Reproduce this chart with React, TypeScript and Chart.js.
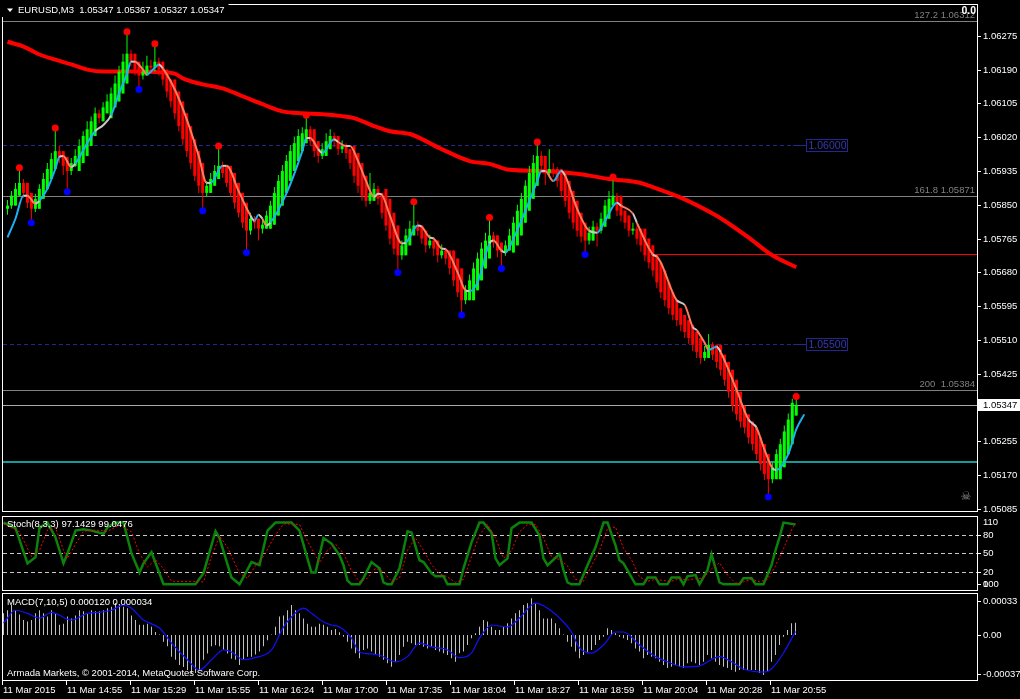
import React, { useEffect, useRef } from 'react';
import { Chart, registerables } from 'chart.js';
Chart.register(...registerables);

// ---------------- DATA ----------------
const opens = [
  1.05840,1.05848,1.05848,1.05873,1.05905,1.05905,1.05880,1.05840,1.05840,1.05865,
  1.05890,1.05915,1.05940,1.05985,1.05985,1.05970,1.05935,1.05948,1.05935,1.05955,
  1.05973,1.05998,1.06023,1.06080,1.06060,1.06080,1.06068,1.06095,1.06110,1.06130,
  1.06155,1.06230,1.06230,1.06210,1.06175,1.06175,1.06200,1.06195,1.06210,1.06210,
  1.06190,1.06165,1.06165,1.06135,1.06110,1.06080,1.06048,1.06015,1.05985,1.05955,
  1.05880,1.05880,1.05898,1.05915,1.05948,1.05948,1.05948,1.05930,1.05905,1.05880,
  1.05855,1.05785,1.05815,1.05815,1.05790,1.05790,1.05790,1.05800,1.05823,1.05848,
  1.05880,1.05910,1.05935,1.05960,1.05985,1.06005,1.06040,1.06040,1.06010,1.05973,
  1.05973,1.05990,1.06023,1.06023,1.05990,1.05998,1.05990,1.05998,1.05980,1.05955,
  1.05923,1.05860,1.05860,1.05890,1.05880,1.05890,1.05865,1.05830,1.05798,1.05723,
  1.05723,1.05748,1.05773,1.05798,1.05798,1.05785,1.05748,1.05760,1.05760,1.05723,
  1.05735,1.05735,1.05735,1.05715,1.05690,1.05610,1.05610,1.05610,1.05635,1.05660,
  1.05690,1.05715,1.05773,1.05773,1.05755,1.05730,1.05735,1.05730,1.05748,1.05773,
  1.05805,1.05835,1.05865,1.05898,1.05973,1.05973,1.05930,1.05940,1.05940,1.05940,
  1.05935,1.05910,1.05885,1.05860,1.05830,1.05805,1.05760,1.05760,1.05795,1.05785,
  1.05795,1.05815,1.05848,1.05873,1.05873,1.05835,1.05823,1.05785,1.05790,1.05790,
  1.05790,1.05765,1.05748,1.05723,1.05705,1.05685,1.05655,1.05630,1.05610,1.05590,
  1.05573,1.05560,1.05548,1.05530,1.05515,1.05465,1.05465,1.05498,1.05498,1.05498,
  1.05473,1.05455,1.05435,1.05410,1.05380,1.05345,1.05323,1.05305,1.05290,1.05265,
  1.05248,1.05223,1.05160,1.05160,1.05160,1.05190,1.05223,1.05248,1.05320,
];
const closes = [
  1.05848,1.05873,1.05890,1.05905,1.05880,1.05855,1.05840,1.05865,1.05890,1.05915,
  1.05940,1.05965,1.05985,1.05970,1.05948,1.05935,1.05955,1.05973,1.05998,1.06023,
  1.06040,1.06060,1.06080,1.06068,1.06095,1.06110,1.06130,1.06155,1.06185,1.06210,
  1.06230,1.06210,1.06190,1.06175,1.06185,1.06200,1.06195,1.06210,1.06190,1.06165,
  1.06135,1.06110,1.06080,1.06048,1.06015,1.05985,1.05955,1.05923,1.05898,1.05880,
  1.05898,1.05915,1.05935,1.05948,1.05930,1.05905,1.05880,1.05855,1.05830,1.05805,
  1.05785,1.05815,1.05805,1.05790,1.05800,1.05823,1.05848,1.05880,1.05910,1.05935,
  1.05960,1.05985,1.06005,1.06023,1.06030,1.06040,1.06010,1.05985,1.05973,1.05990,
  1.06010,1.06023,1.06010,1.05990,1.05998,1.05980,1.05955,1.05923,1.05898,1.05873,
  1.05860,1.05880,1.05890,1.05865,1.05830,1.05798,1.05765,1.05740,1.05723,1.05748,
  1.05773,1.05790,1.05798,1.05785,1.05765,1.05748,1.05760,1.05740,1.05723,1.05735,
  1.05715,1.05690,1.05660,1.05630,1.05610,1.05635,1.05660,1.05690,1.05715,1.05740,
  1.05760,1.05773,1.05755,1.05735,1.05730,1.05748,1.05773,1.05805,1.05835,1.05865,
  1.05898,1.05930,1.05955,1.05973,1.05948,1.05930,1.05940,1.05935,1.05910,1.05885,
  1.05860,1.05830,1.05805,1.05785,1.05770,1.05760,1.05780,1.05795,1.05785,1.05815,
  1.05848,1.05865,1.05873,1.05835,1.05823,1.05805,1.05785,1.05790,1.05765,1.05748,
  1.05723,1.05705,1.05685,1.05655,1.05630,1.05610,1.05590,1.05573,1.05560,1.05548,
  1.05530,1.05515,1.05498,1.05480,1.05465,1.05480,1.05498,1.05473,1.05455,1.05435,
  1.05410,1.05380,1.05345,1.05323,1.05305,1.05290,1.05265,1.05248,1.05223,1.05198,
  1.05173,1.05160,1.05190,1.05223,1.05248,1.05280,1.05310,1.05352,1.05347,
];
const highs = [
  1.05862,1.05885,1.05905,1.05943,1.05915,1.05888,1.05862,1.05878,1.05902,1.05930,
  1.05955,1.05980,1.06043,1.05998,1.05980,1.05955,1.05968,1.05990,1.06015,1.06035,
  1.06060,1.06072,1.06095,1.06090,1.06108,1.06128,1.06145,1.06175,1.06200,1.06230,
  1.06285,1.06240,1.06222,1.06198,1.06210,1.06225,1.06215,1.06255,1.06220,1.06200,
  1.06172,1.06145,1.06118,1.06090,1.06055,1.06022,1.05995,1.05962,1.05930,1.05905,
  1.05910,1.05930,1.05950,1.05998,1.05958,1.05938,1.05912,1.05888,1.05862,1.05840,
  1.05815,1.05830,1.05822,1.05812,1.05812,1.05835,1.05860,1.05895,1.05925,1.05950,
  1.05975,1.06000,1.06022,1.06040,1.06045,1.06075,1.06048,1.06020,1.05995,1.06005,
  1.06030,1.06040,1.06032,1.06018,1.06012,1.06005,1.05988,1.05962,1.05930,1.05905,
  1.05885,1.05930,1.05905,1.05898,1.05872,1.05838,1.05805,1.05772,1.05748,1.05760,
  1.05790,1.05810,1.05858,1.05808,1.05795,1.05775,1.05775,1.05768,1.05748,1.05750,
  1.05742,1.05722,1.05698,1.05668,1.05638,1.05648,1.05675,1.05705,1.05730,1.05755,
  1.05780,1.05818,1.05782,1.05765,1.05745,1.05760,1.05790,1.05820,1.05850,1.05880,
  1.05912,1.05948,1.05975,1.06008,1.05985,1.05960,1.05990,1.05955,1.05945,1.05918,
  1.05892,1.05868,1.05840,1.05812,1.05795,1.05780,1.05795,1.05810,1.05805,1.05830,
  1.05862,1.05885,1.05920,1.05880,1.05842,1.05830,1.05812,1.05805,1.05798,1.05772,
  1.05755,1.05730,1.05712,1.05692,1.05662,1.05640,1.05618,1.05600,1.05582,1.05568,
  1.05555,1.05538,1.05522,1.05505,1.05488,1.05495,1.05525,1.05505,1.05480,1.05462,
  1.05442,1.05418,1.05388,1.05352,1.05330,1.05312,1.05298,1.05272,1.05255,1.05230,
  1.05205,1.05180,1.05202,1.05235,1.05262,1.05295,1.05325,1.05362,1.05367,
];
const lows = [
  1.05825,1.05840,1.05865,1.05882,1.05868,1.05842,1.05805,1.05832,1.05858,1.05882,
  1.05905,1.05932,1.05958,1.05955,1.05925,1.05883,1.05925,1.05945,1.05965,1.05990,
  1.06015,1.06030,1.06052,1.06055,1.06060,1.06088,1.06100,1.06122,1.06148,1.06178,
  1.06202,1.06198,1.06175,1.06140,1.06165,1.06178,1.06180,1.06185,1.06175,1.06150,
  1.06120,1.06095,1.06065,1.06035,1.06000,1.05970,1.05940,1.05910,1.05880,1.05835,
  1.05870,1.05890,1.05905,1.05928,1.05918,1.05895,1.05870,1.05840,1.05818,1.05792,
  1.05730,1.05775,1.05790,1.05760,1.05778,1.05792,1.05815,1.05840,1.05870,1.05900,
  1.05928,1.05952,1.05975,1.05995,1.06010,1.06020,1.05998,1.05970,1.05955,1.05965,
  1.05982,1.06000,1.05995,1.05975,1.05980,1.05965,1.05940,1.05905,1.05880,1.05860,
  1.05845,1.05852,1.05870,1.05850,1.05815,1.05785,1.05750,1.05725,1.05680,1.05712,
  1.05740,1.05765,1.05782,1.05772,1.05752,1.05730,1.05740,1.05722,1.05705,1.05715,
  1.05700,1.05675,1.05645,1.05618,1.05573,1.05600,1.05625,1.05650,1.05682,1.05705,
  1.05732,1.05750,1.05742,1.05718,1.05690,1.05722,1.05740,1.05765,1.05795,1.05825,
  1.05855,1.05888,1.05920,1.05945,1.05935,1.05900,1.05920,1.05920,1.05895,1.05870,
  1.05845,1.05815,1.05790,1.05770,1.05755,1.05725,1.05750,1.05770,1.05745,1.05778,
  1.05808,1.05840,1.05858,1.05822,1.05808,1.05790,1.05770,1.05775,1.05750,1.05732,
  1.05708,1.05690,1.05670,1.05640,1.05615,1.05595,1.05575,1.05560,1.05545,1.05532,
  1.05515,1.05500,1.05482,1.05465,1.05450,1.05458,1.05472,1.05460,1.05440,1.05420,
  1.05395,1.05365,1.05330,1.05308,1.05290,1.05275,1.05250,1.05232,1.05208,1.05182,
  1.05158,1.05115,1.05150,1.05182,1.05215,1.05240,1.05272,1.05302,1.05327,
];

// slow moving average (bar, price)
const slowMA = [
  [0,1.06260],[4,1.06248],[8,1.06228],[12,1.06215],[16,1.06203],[20,1.06190],[24,1.06185],[27,1.06185],
  [33,1.06185],[39,1.06183],[42,1.06180],[44,1.06168],[49,1.06153],[54,1.06143],[59,1.06123],[64,1.06103],
  [69,1.06085],[74,1.06080],[79,1.06078],[84,1.06073],[87,1.06068],[92,1.06048],[96,1.06035],[101,1.06028],
  [109,1.05990],[116,1.05960],[121,1.05953],[126,1.05938],[134,1.05935],[143,1.05928],[151,1.05915],
  [159,1.05905],[161,1.05898],[169,1.05868],[177,1.05828],[180,1.05810],[186,1.05768],[192,1.05723],[198,1.05693],
];

// trend line (bar, price, state u=up d=down n=neutral)
const trendLine = [
  [0,1.05768,'u'],[2,1.05815,'u'],[4,1.05873,'n'],[5,1.05873,'d'],[7,1.05853,'n'],[8,1.05860,'u'],[10,1.05890,'u'],
  [12,1.05940,'u'],[13,1.05970,'n'],[14,1.05973,'d'],[16,1.05945,'n'],[17,1.05953,'u'],[20,1.06005,'u'],[22,1.06035,'n'],
  [24,1.06050,'n'],[26,1.06075,'u'],[28,1.06130,'u'],[30,1.06180,'u'],[31,1.06210,'n'],[32,1.06210,'d'],[34,1.06190,'d'],
  [35,1.06178,'u'],[37,1.06195,'u'],[38,1.06203,'n'],[39,1.06193,'d'],[42,1.06140,'d'],[45,1.06065,'d'],[48,1.05973,'d'],
  [50,1.05905,'n'],[51,1.05905,'u'],[54,1.05948,'n'],[55,1.05948,'d'],[58,1.05885,'d'],[61,1.05823,'n'],[62,1.05810,'u'],
  [63,1.05825,'n'],[64,1.05815,'d'],[65,1.05798,'n'],[66,1.05805,'u'],[70,1.05878,'u'],[74,1.05985,'u'],[75,1.06018,'n'],
  [76,1.06018,'d'],[78,1.05990,'n'],[79,1.05980,'u'],[82,1.06015,'n'],[83,1.06008,'d'],[85,1.05998,'n'],[86,1.05998,'d'],
  [88,1.05960,'d'],[90,1.05910,'d'],[92,1.05870,'n'],[93,1.05878,'n'],[94,1.05875,'d'],[96,1.05823,'d'],[99,1.05753,'n'],
  [100,1.05755,'u'],[103,1.05798,'n'],[104,1.05795,'d'],[106,1.05768,'n'],[107,1.05765,'d'],[109,1.05740,'n'],
  [110,1.05738,'d'],[113,1.05680,'d'],[115,1.05635,'n'],[116,1.05633,'u'],[118,1.05655,'u'],[121,1.05753,'n'],
  [122,1.05760,'d'],[124,1.05735,'n'],[125,1.05730,'u'],[127,1.05765,'u'],[130,1.05835,'u'],[133,1.05910,'u'],
  [134,1.05935,'n'],[135,1.05935,'d'],[137,1.05910,'u'],[139,1.05935,'n'],[140,1.05923,'d'],[143,1.05840,'d'],
  [146,1.05785,'n'],[148,1.05780,'u'],[150,1.05810,'u'],[153,1.05855,'n'],[154,1.05848,'d'],[157,1.05828,'n'],
  [158,1.05805,'d'],[162,1.05725,'n'],[163,1.05720,'d'],[164,1.05705,'d'],[168,1.05610,'n'],[170,1.05598,'d'],
  [172,1.05543,'n'],[173,1.05535,'d'],[175,1.05503,'d'],[176,1.05485,'u'],[178,1.05493,'n'],[179,1.05480,'d'],
  [183,1.05385,'d'],[186,1.05310,'n'],[188,1.05290,'d'],[190,1.05235,'d'],[192,1.05188,'n'],[193,1.05183,'u'],
  [196,1.05223,'u'],[198,1.05285,'u'],[200,1.05323,'u'],
];

const fractalHighs = [[3,1.05943],[12,1.06043],[30,1.06285],[37,1.06255],[53,1.05998],[75,1.06075],[102,1.05858],[121,1.05818],[133,1.06008],[152,1.05920],[198,1.05368]];
const fractalLows = [[6,1.05805],[15,1.05883],[33,1.06140],[49,1.05835],[60,1.05730],[98,1.05680],[114,1.05573],[124,1.05690],[145,1.05725],[191,1.05115]];

const fibRatios = ['127.2', '161.8', '200'];
const fibPrices = [1.06312, 1.05871, 1.05384];
const roundLevels = [1.06, 1.055];
const supportPrice = 1.05203;
const redLine = { fromBar: 161.6, price: 1.057275 };
const lastPrice = 1.05347;
const titleText = 'EURUSD,M3  1.05347 1.05367 1.05327 1.05347';

const priceTicks = [1.06275,1.06190,1.06105,1.06020,1.05935,1.05850,1.05765,1.05680,1.05595,1.05510,1.05425,1.05340,1.05255,1.05170,1.05085];

const stochK = [
  [0,100],[3,91],[6,34],[8,44],[9,92],[11,100],[13,76],[15,34],[16,50],[18,87],[20,89],[22,87],[25,82],[26,92],[28,100],
  [30,100],[32,50],[34,19],[35,34],[37,52],[40,0],[48,0],[50,18],[53,86],[54,75],[57,11],[59,0],[62,36],[64,31],[66,87],
  [68,100],[72,100],[74,87],[77,19],[78,19],[80,75],[82,66],[84,47],[85,31],[86,6],[87,0],[89,0],[90,10],[92,36],[94,26],
  [95,3],[96,0],[97,0],[99,26],[101,86],[102,84],[104,39],[105,36],[107,18],[108,13],[110,13],[111,0],[114,0],[115,26],
  [117,68],[119,100],[120,100],[122,84],[123,42],[124,31],[126,42],[127,91],[129,100],[132,100],[134,79],[135,42],[136,31],
  [139,49],[140,23],[141,3],[142,0],[144,0],[146,31],[148,60],[150,100],[151,100],[153,63],[154,39],[155,34],[158,0],
  [160,0],[161,11],[163,11],[164,0],[166,0],[167,11],[169,11],[170,0],[171,13],[173,15],[174,0],[176,23],[177,49],[179,3],
  [180,0],[184,0],[185,10],[187,10],[188,0],[190,0],[192,31],[193,55],[194,76],[195,100],[198,97],
];
const stochD = [
  [0,98],[4,85],[7,45],[9,55],[11,88],[13,92],[15,55],[16,42],[18,65],[20,86],[23,88],[26,86],[29,96],[32,85],[34,50],
  [36,28],[38,40],[40,25],[42,5],[50,4],[52,45],[54,78],[56,60],[59,18],[61,10],[63,30],[65,45],[68,80],[70,98],[74,97],
  [76,70],[79,35],[81,55],[83,65],[85,50],[87,22],[89,4],[91,10],[93,26],[95,20],[97,5],[99,10],[101,55],[103,75],[105,55],
  [107,32],[109,17],[111,12],[113,3],[115,8],[117,45],[119,80],[121,97],[123,75],[125,42],[127,55],[129,85],[131,97],
  [133,97],[135,75],[137,45],[139,40],[141,30],[143,8],[145,5],[147,30],[149,55],[151,90],[153,93],[155,58],[157,40],
  [159,12],[161,5],[163,8],[165,6],[167,5],[169,9],[171,7],[173,9],[175,10],[177,25],[179,35],[181,15],[183,2],[185,4],
  [187,8],[189,4],[191,8],[193,30],[195,58],[197,88],[198,99],
];
const stochLevels = [80, 50, 20];
const stochAxis = [[110,'110'],[80,'80'],[50,'50'],[20,'20'],[0,'0'],[0,'100']];
const stochTitle = 'Stoch(8,3,3) 97.1429 99.0476';

const macdHist = [
  0.00021,0.00024,0.00029,0.00024,0.0002,0.000145,0.00013,0.000145,0.00021,0.00024,
  0.00021,0.00018,0.00024,0.00021,0.0001,0.00011,0.00018,0.00016,0.00019,0.00024,
  0.00023,0.00021,0.00024,0.00023,0.00023,0.00024,0.00026,0.000275,0.00031,0.00029,
  0.000275,0.00026,0.00019,0.000145,0.0001,0.0001,0.00011,0.00008,0.00003,0.000005,
  -0.000065,-0.00011,-0.00021,-0.00024,-0.00029,-0.00031,-0.00034,-0.00037,-0.00037,-0.00034,
  -0.00024,-0.00018,-0.00011,-0.0001,-0.00011,-0.000145,-0.00018,-0.00023,-0.00024,-0.00029,
  -0.00024,-0.00021,-0.00021,-0.00019,-0.00016,-0.00011,-0.00005,0.000005,0.00008,0.00018,
  0.00019,0.00024,0.00029,0.00024,0.00021,0.00016,0.00011,0.00008,0.00008,0.00011,
  0.0001,0.00008,0.000049,0.000058,0.000026,-0.000016,-0.000065,-0.00013,-0.000178,-0.000226,
  -0.000145,-0.00013,-0.00016,-0.000194,-0.00021,-0.00024,-0.000275,-0.000307,-0.00026,-0.000194,
  -0.000113,-0.000065,-0.00008,-0.000097,-0.000097,-0.000113,-0.00013,-0.000113,-0.000145,-0.00016,
  -0.000178,-0.000194,-0.000226,-0.00026,-0.000178,-0.00016,-0.000097,-0.000032,0.000016,0.00008,
  0.000145,0.00013,0.00008,0.000049,0.000049,0.00008,0.000113,0.00016,0.00021,0.00024,
  0.00029,0.000307,0.000356,0.000307,0.00024,0.00016,0.00016,0.00016,0.000113,0.000065,
  0.000005,-0.000065,-0.000113,-0.00016,-0.000226,-0.000194,-0.000178,-0.000145,-0.000097,-0.000049,
  -0.000016,0.000065,0.000049,0.000016,-0.000016,-0.000032,-0.000049,-0.00008,-0.00013,-0.00016,
  -0.000226,-0.000194,-0.00021,-0.000226,-0.00026,-0.00029,-0.00032,-0.000307,-0.00029,-0.000307,
  -0.00032,-0.000275,-0.00026,-0.000275,-0.00029,-0.00026,-0.000194,-0.000226,-0.00026,-0.00029,
  -0.000307,-0.00032,-0.00034,-0.000356,-0.00034,-0.00034,-0.00034,-0.00034,-0.00034,-0.00037,
  -0.000388,-0.000356,-0.00026,-0.000194,-0.000097,-0.000016,0.000049,0.000113,0.00012,
];
const macdSignal = [
  [0,0.000116],[3,0.00024],[6,0.00021],[9,0.000165],[12,0.00022],[17,0.000145],[21,0.00021],[24,0.00022],[27,0.00024],
  [30,0.00029],[32,0.00026],[35,0.000145],[39,0.000068],[42,-0.000078],[46,-0.00024],[49,-0.00034],[52,-0.00024],
  [55,-0.000145],[57,-0.000165],[60,-0.00024],[63,-0.00022],[67,-0.000145],[70,0.000078],[72,0.000175],[75,0.00026],
  [77,0.00021],[80,0.000126],[82,0.000097],[84,0.000078],[87,-0.00003],[89,-0.000165],[92,-0.000184],[94,-0.000194],
  [98,-0.00026],[101,-0.00021],[104,-0.000078],[107,-0.000116],[111,-0.000145],[114,-0.00022],[117,-0.000175],
  [119,-0.00003],[122,0.000097],[126,0.000078],[129,0.000165],[133,0.00031],[136,0.00026],[140,0.000126],[142,0.000029],
  [144,-0.000126],[147,-0.000175],[150,-0.000097],[153,0.000029],[155,0.000029],[159,-0.000097],[163,-0.00021],
  [166,-0.00026],[170,-0.00031],[174,-0.0003],[179,-0.00021],[182,-0.00026],[185,-0.00033],[190,-0.00036],
  [192,-0.00033],[195,-0.000175],[198,0.000034],
];
const macdAxis = [[0.00033,'0.00033'],[0,'0.00'],[-0.000374,'-0.000374']];
const macdTitle = 'MACD(7,10,5) 0.000120 0.000034';
const copyright = 'Armada Markets, \u00a9 2001-2014, MetaQuotes Software Corp.';

const timeLabels = ['11 Mar 2015','11 Mar 14:55','11 Mar 15:29','11 Mar 15:55','11 Mar 16:24','11 Mar 17:00','11 Mar 17:35','11 Mar 18:04','11 Mar 18:27','11 Mar 18:59','11 Mar 20:04','11 Mar 20:28','11 Mar 20:55'];
const timeLabelBars = [0,16,32,48,64,80,96,112,128,144,160,176,192];

// ---------------- STYLE ----------------
const FONT = '9.5px "Liberation Sans", Arial, sans-serif';
const BULL = '#00ff00';
const BEAR = '#ff0000';
const TREND_COLORS = { u: '#1cb2f5', d: '#ff7b5c', n: '#c8c8c8' };
const LEVEL = '#262690';
const W = 1020;
const RIGHT_PAD = 43;
const X_MIN = -0.875;
const X_MAX = 243.375;

const crisp = (v: number) => Math.round(v) + 0.5;

function hline(ctx: any, x1: number, x2: number, y: number, color: string, width = 1, dash: number[] = []) {
  ctx.save();
  ctx.strokeStyle = color;
  ctx.lineWidth = width;
  ctx.setLineDash(dash);
  ctx.beginPath();
  ctx.moveTo(x1, y);
  ctx.lineTo(x2, y);
  ctx.stroke();
  ctx.restore();
}
function txt(ctx: any, s: string, x: number, y: number, color: string, align = 'left', baseline = 'middle', font = FONT) {
  ctx.save();
  ctx.font = font;
  ctx.fillStyle = color;
  ctx.textAlign = align;
  ctx.textBaseline = baseline;
  ctx.fillText(s, x, y);
  ctx.restore();
}
function axisLabel(ctx: any, y: number, s: string, tick = true) {
  if (tick) hline(ctx, 978, 981, crisp(y), '#ffffff');
  txt(ctx, s, 983, Math.round(y), '#ffffff');
}
function border(ctx: any, a: any) {
  ctx.save();
  ctx.strokeStyle = '#ffffff';
  ctx.lineWidth = 1;
  ctx.strokeRect(2.5, a.top + 0.5, a.right - 2, a.bottom - a.top - 1);
  ctx.restore();
}

const pts = (arr: any[]) => arr.map((p) => ({ x: p[0], y: p[1] }));

function baseOptions(yMin: number, yMax: number, padding: any) {
  return {
    responsive: false,
    animation: false,
    events: [],
    layout: { padding },
    plugins: { legend: { display: false }, tooltip: { enabled: false }, title: { display: false } },
    scales: {
      x: { type: 'linear', min: X_MIN, max: X_MAX, display: false, offset: false },
      y: { type: 'linear', min: yMin, max: yMax, display: false },
    },
  };
}

// ---------------- MAIN PANE ----------------
const mainPlugin = {
  id: 'mainPane',
  beforeDatasetsDraw(chart: any) {
    const { ctx, chartArea: a, scales } = chart;
    const x = scales.x, y = scales.y;
    const L = 3, R = a.right;
    fibPrices.forEach((p) => hline(ctx, L, R, crisp(y.getPixelForValue(p)), '#808080'));
    hline(ctx, L, R, crisp(y.getPixelForValue(lastPrice)), '#a8a8a8');
    hline(ctx, L, R, Math.round(y.getPixelForValue(supportPrice)), '#169999', 2);
    hline(ctx, Math.round(x.getPixelForValue(redLine.fromBar)), R, crisp(y.getPixelForValue(redLine.price)), '#ff0000');
    const boxX = Math.round(x.getPixelForValue(closes.length - 1)) + 10;
    roundLevels.forEach((p) => {
      const py = crisp(y.getPixelForValue(p));
      hline(ctx, L, boxX - 13, py, LEVEL, 1, [4, 3]);
      hline(ctx, boxX - 13, boxX, py, LEVEL, 1);
    });
  },
  afterDraw(chart: any) {
    const { ctx, chartArea: a, scales } = chart;
    const x = scales.x, y = scales.y;
    fibPrices.forEach((p, i) => {
      const py = Math.round(y.getPixelForValue(p));
      const label = fibRatios[i] + (fibRatios[i].length < 4 ? '  ' : ' ') + p.toFixed(5);
      txt(ctx, label, a.right - 2, py - 3, '#808080', 'right', 'alphabetic');
    });
    const boxX = Math.round(x.getPixelForValue(closes.length - 1)) + 10;
    roundLevels.forEach((p) => {
      const py = crisp(y.getPixelForValue(p));
      ctx.save();
      ctx.strokeStyle = LEVEL;
      ctx.lineWidth = 1;
      ctx.strokeRect(boxX + 0.5, py - 6, 41, 12);
      ctx.restore();
      txt(ctx, p.toFixed(5), boxX + 21.5, py + 0.5, '#3838b0', 'center', 'middle', '10.5px "Liberation Sans", Arial, sans-serif');
    });
    border(ctx, a);
    ctx.save();
    ctx.font = FONT;
    const tw = ctx.measureText(titleText).width;
    ctx.fillStyle = '#000000';
    ctx.fillRect(0, 3, 18 + tw + 4, 14);
    ctx.fillStyle = '#ffffff';
    ctx.beginPath();
    ctx.moveTo(7, 8.5);
    ctx.lineTo(13, 8.5);
    ctx.lineTo(10, 12);
    ctx.closePath();
    ctx.fill();
    ctx.restore();
    txt(ctx, titleText, 18, 10.5, '#ffffff');
    txt(ctx, '0.0', a.right - 1, 11, '#ffffff', 'right', 'middle', 'bold 10.5px "Liberation Sans", Arial, sans-serif');
    txt(ctx, '\u2620', a.right - 11, a.bottom - 15, '#8a8a8a', 'center', 'middle', '12px "DejaVu Sans", sans-serif');
    priceTicks.forEach((p) => axisLabel(ctx, y.getPixelForValue(p), p.toFixed(5)));
    const ly = y.getPixelForValue(lastPrice);
    ctx.save();
    ctx.fillStyle = '#ffffff';
    ctx.fillRect(978, Math.round(ly) - 6, 42, 12);
    ctx.restore();
    txt(ctx, lastPrice.toFixed(5), 983, Math.round(ly), '#000000');
  },
};

function mainConfig(): any {
  const colors = closes.map((c, i) => (c >= opens[i] ? BULL : BEAR));
  return {
    type: 'bar',
    data: {
      datasets: [
        { type: 'line', data: pts(slowMA), borderColor: '#ff0000', borderWidth: 4, pointRadius: 0, cubicInterpolationMode: 'monotone', order: 10 },
        {
          type: 'bar',
          data: closes.map((c, i) => ({ x: i, y: [Math.min(lows[i], opens[i], c), Math.max(highs[i], opens[i], c)] })),
          backgroundColor: colors, barThickness: 1, grouped: false, inflateAmount: 0, minBarLength: 1, order: 9,
        },
        {
          type: 'bar', data: closes.map((c, i) => ({ x: i, y: [opens[i], c] })),
          backgroundColor: colors, barThickness: 3, grouped: false, inflateAmount: 0, minBarLength: 1, order: 8,
        },
        {
          type: 'line', data: pts(trendLine), borderWidth: 2, pointRadius: 0, cubicInterpolationMode: 'monotone', order: 5,
          borderColor: TREND_COLORS.u,
          segment: { borderColor: (c: any) => (TREND_COLORS as any)[trendLine[c.p0DataIndex][2] as string] },
        },
        { type: 'line', data: pts(fractalHighs), showLine: false, pointRadius: 3.5, pointBackgroundColor: '#ff0000', pointBorderWidth: 0, order: 1 },
        { type: 'line', data: pts(fractalLows), showLine: false, pointRadius: 3.5, pointBackgroundColor: '#0000ff', pointBorderWidth: 0, order: 1 },
      ],
    },
    options: baseOptions(1.050775, 1.06355, { left: 0, right: RIGHT_PAD, top: 2, bottom: 3 }),
    plugins: [mainPlugin],
  };
}

// ---------------- STOCH PANE ----------------
const stochPlugin = {
  id: 'stochPane',
  beforeDatasetsDraw(chart: any) {
    const { ctx, chartArea: a, scales } = chart;
    stochLevels.forEach((v) => hline(ctx, 3, a.right, crisp(scales.y.getPixelForValue(v)), '#c8c8c8', 1, [4, 3]));
  },
  afterDraw(chart: any) {
    const { ctx, chartArea: a, scales } = chart;
    border(ctx, a);
    txt(ctx, stochTitle, 7, a.top + 8.5, '#ffffff');
    stochAxis.forEach(([v, s]) => {
      const py = scales.y.getPixelForValue(v as number);
      const clamped = Math.max(py, a.top + 6);
      axisLabel(ctx, clamped, s as string, clamped === py);
    });
  },
};
function stochConfig(): any {
  return {
    type: 'line',
    data: {
      datasets: [
        { data: pts(stochK), borderColor: '#0b830b', borderWidth: 2.5, pointRadius: 0, tension: 0, order: 2 },
        { data: pts(stochD), borderColor: '#ff0000', borderWidth: 1, borderDash: [2, 2], pointRadius: 0, tension: 0, order: 1 },
      ],
    },
    options: baseOptions(-10.86, 110.7, { left: 0, right: RIGHT_PAD, top: 0, bottom: 2 }),
    plugins: [stochPlugin],
  };
}

// ---------------- MACD PANE ----------------
const macdPlugin = {
  id: 'macdPane',
  afterDraw(chart: any) {
    const { ctx, chartArea: a, scales } = chart;
    border(ctx, a);
    txt(ctx, macdTitle, 7, a.top + 9, '#ffffff');
    txt(ctx, copyright, 7, a.bottom - 8, '#ffffff');
    macdAxis.forEach(([v, s]) => axisLabel(ctx, scales.y.getPixelForValue(v as number), s as string));
    timeLabelBars.forEach((b, i) => {
      const px = Math.floor(scales.x.getPixelForValue(b));
      ctx.save();
      ctx.strokeStyle = '#ffffff';
      ctx.lineWidth = 1;
      ctx.beginPath();
      ctx.moveTo(px - 0.5, a.bottom);
      ctx.lineTo(px - 0.5, a.bottom + 4);
      ctx.stroke();
      ctx.restore();
      txt(ctx, timeLabels[i], px, a.bottom + 9.5, '#ffffff');
    });
  },
};
function macdConfig(): any {
  return {
    type: 'bar',
    data: {
      datasets: [
        { type: 'bar', data: macdHist.map((v, i) => ({ x: i, y: v })), backgroundColor: '#c0c0c0', barThickness: 1, inflateAmount: 0, grouped: false, order: 2 },
        { type: 'line', data: pts(macdSignal), borderColor: '#1010ff', borderWidth: 1.2, pointRadius: 0, cubicInterpolationMode: 'monotone', order: 1 },
      ],
    },
    options: baseOptions(-0.0004465, 0.0004076, { left: 0, right: RIGHT_PAD, top: 0, bottom: 18 }),
    plugins: [macdPlugin],
  };
}

export default function App() {
  const mainRef = useRef<HTMLCanvasElement>(null);
  const stochRef = useRef<HTMLCanvasElement>(null);
  const macdRef = useRef<HTMLCanvasElement>(null);
  useEffect(() => {
    const charts = [
      new Chart(mainRef.current as any, mainConfig()),
      new Chart(stochRef.current as any, stochConfig()),
      new Chart(macdRef.current as any, macdConfig()),
    ];
    return () => charts.forEach((c) => c.destroy());
  }, []);
  return (
    <div style={{ position: 'fixed', left: 0, top: 0, width: W, height: 699, background: '#000', overflow: 'hidden' }}>
      <canvas ref={mainRef} width={W} height={516} style={{ position: 'absolute', left: 0, top: 0 }} />
      <canvas ref={stochRef} width={W} height={77} style={{ position: 'absolute', left: 0, top: 516 }} />
      <canvas ref={macdRef} width={W} height={106} style={{ position: 'absolute', left: 0, top: 593 }} />
    </div>
  );
}
